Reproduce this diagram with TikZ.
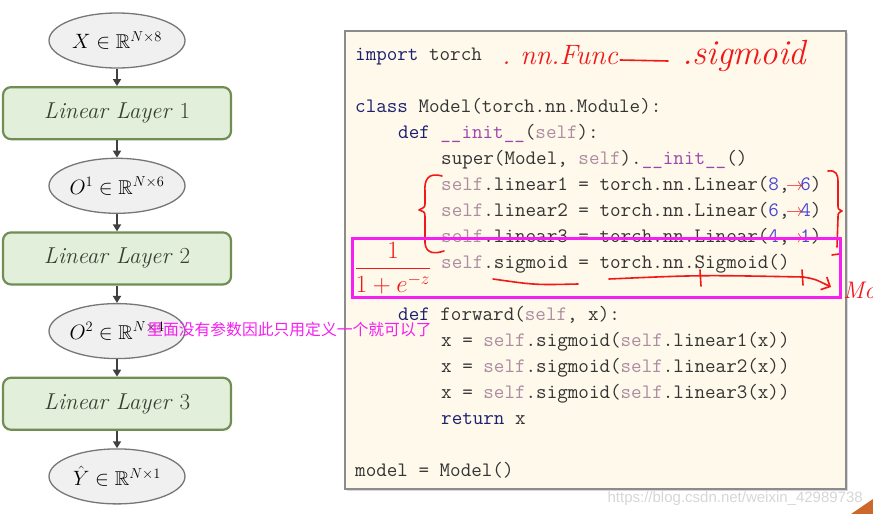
\documentclass[tikz,border=0pt]{standalone}
\usepackage{fontspec}
\usepackage{amsmath,amssymb,graphicx,xcolor}
\newfontfamily\cjk{Noto Sans CJK SC}
\newfontfamily\wmfont{Liberation Sans}
\definecolor{tensorfill}{RGB}{240,240,240}
\definecolor{tensorline}{RGB}{118,118,118}
\definecolor{layerfill}{RGB}{226,239,218}
\definecolor{layerline}{RGB}{112,142,84}
\definecolor{layertext}{RGB}{56,64,48}
\definecolor{flowgray}{RGB}{64,64,64}
\definecolor{paper}{RGB}{254,249,234}
\definecolor{paperline}{RGB}{140,140,140}
\definecolor{codetext}{RGB}{52,52,52}
\definecolor{kwblue}{RGB}{28,32,112}
\definecolor{selfgray}{RGB}{172,140,160}
\definecolor{dunder}{RGB}{160,70,170}
\definecolor{numblue}{RGB}{72,72,210}
\definecolor{inkred}{RGB}{240,24,24}
\definecolor{hlmagenta}{RGB}{246,30,240}
\definecolor{wmgray}{RGB}{214,214,214}
\definecolor{cornerorange}{RGB}{204,104,44}
\usetikzlibrary{arrows.meta,positioning,shapes.geometric,shadows}
\newcommand{\kwd}[1]{\textcolor{kwblue}{#1}}
\newcommand{\slf}{\textcolor{selfgray}{self}}
\newcommand{\dund}[1]{\textcolor{dunder}{\_\_#1\_\_}}
\newcommand{\cnum}[1]{\textcolor{numblue}{#1}}
\newcommand{\inkarrow}{\makebox[0.525em][c]{\textcolor{inkred}{\scalebox{0.85}{$\rightarrow$}}}}
\frenchspacing

\begin{document}
\begin{tikzpicture}[x=1pt, y=-1pt, node distance=17.4pt,
  tensor/.style={ellipse, draw=tensorline, fill=tensorfill, line width=1.3pt, inner sep=0pt,
    minimum width=136pt, minimum height=55pt, font=\fontsize{20}{24}\selectfont},
  layerbox/.style={rectangle, rounded corners=8pt, draw=layerline, fill=layerfill, line width=2.2pt,
    minimum width=228pt, minimum height=52pt, text=layertext, font=\fontsize{23}{26}\selectfont},
  flow/.style={-{Triangle[length=7pt,width=8pt]}, line width=2pt, draw=flowgray},
  codeline/.style={anchor=base west, inner sep=0pt, text=codetext, font=\ttfamily\fontsize{20.5}{24}\selectfont},
  ink/.style={draw=inkred, line width=1.6pt, line cap=round, line join=round},
  inktext/.style={text=inkred, inner sep=0pt}]
\useasboundingbox (0,0) rectangle (873,514);
% Network
\node[tensor] (xin) at (117,40.5) {$X \in \mathbb{R}^{N\times 8}$};
\node[layerbox, below=of xin] (lay1) {\textit{Linear Layer} 1};
\node[tensor, below=of lay1] (out1) {$O^1 \in \mathbb{R}^{N\times 6}$};
\node[layerbox, below=of out1] (lay2) {\textit{Linear Layer} 2};
\node[tensor, below=of lay2] (out2) {$O^2 \in \mathbb{R}^{N\times 4}$};
\node[layerbox, below=of out2] (lay3) {\textit{Linear Layer} 3};
\node[tensor, below=of lay3] (yhat) {$\hat{Y} \in \mathbb{R}^{N\times 1}$};
\draw[flow] (xin) -- (lay1);
\draw[flow] (lay1) -- (out1);
\draw[flow] (out1) -- (lay2);
\draw[flow] (lay2) -- (out2);
\draw[flow] (out2) -- (lay3);
\draw[flow] (lay3) -- (yhat);
% Code panel
\node[draw=paperline, fill=paper, line width=1.5pt, minimum width=501pt, minimum height=458pt,
  anchor=north west, drop shadow={shadow xshift=2pt, shadow yshift=-2pt, fill=gray!60}] (panel) at (344,30) {};
\node[codeline] (imp) at (355,60) {\kwd{import} torch};
\node[codeline] (cls) at (355,112) {\kwd{class} Model(torch.nn.Module):};
\node[codeline] (init) at (398,138) {\kwd{def} \dund{init}(\slf):};
\node[codeline] (sup) at (441,164) {super(Model, \slf).\dund{init}()};
\node[codeline] (lin1) at (441,190) {\slf.linear1 = torch.nn.Linear(\cnum{8},\inkarrow\cnum{6})};
\node[codeline] (lin2) at (441,216) {\slf.linear2 = torch.nn.Linear(\cnum{6},\inkarrow\cnum{4})};
\node[codeline] (lin3) at (441,242) {\slf.linear3 = torch.nn.Linear(\cnum{4},\inkarrow\cnum{1})};
\node[codeline] (sig) at (441,268) {\slf.sigmoid = torch.nn.Sigmoid()};
\node[codeline] (fwd) at (398,320) {\kwd{def} forward(\slf, x):};
\node[codeline] (fx1) at (441,346) {x = \slf.sigmoid(\slf.linear1(x))};
\node[codeline] (fx2) at (441,372) {x = \slf.sigmoid(\slf.linear2(x))};
\node[codeline] (fx3) at (441,398) {x = \slf.sigmoid(\slf.linear3(x))};
\node[codeline] (ret) at (441,424) {\kwd{return} x};
\node[codeline] (mdl) at (355,476) {model = Model()};
% Handwriting
\node[inktext, anchor=base west, font=\itshape\fontsize{28}{30}\selectfont] (inknn) at (502,64) {.\ nn.Func};
\coordinate (inkdash) at (668,61);
\draw[ink] ([xshift=2pt, yshift=4pt]inknn.base east) -- (inkdash);
\node[inktext, anchor=base west, font=\itshape\fontsize{35}{37}\selectfont] (inksig) at (682,64) {.sigmoid};
\draw[ink] (442,176) .. controls (428,172) and (424,180) .. (425,192) -- (425,203)
  .. controls (425,207) .. (419,210) .. controls (425,212) .. (425,218) -- (425,243)
  .. controls (426,254) and (435,254) .. (444,251);
\draw[ink] (828,171) .. controls (836,170) and (838,174) .. (838,182) -- (838,205)
  .. controls (838,209) .. (842,211) .. controls (838,213) .. (838,218) -- (837,247);
\draw[ink] (832,255) -- (839,254);
\node[inktext, font=\fontsize{24}{26}\selectfont] (inkfrac) at (393,268) {$\dfrac{1}{1+e^{-z}}$};
\draw[ink] (493,279) .. controls (535,285) .. (578,284);
\draw[ink] (609,279) .. controls (700,275) .. (803,277);
\draw[ink] (700,270) -- (701,286);
\draw[ink] (802,270) -- (803,285);
\draw[ink, -{Straight Barb[length=7pt,width=14pt]}] (803,277) .. controls (815,279) .. (831,287);
\node[inktext, anchor=base west, font=\itshape\fontsize{24}{26}\selectfont] (inkmo) at (843,298) {Mo};
% Highlight and note
\node[draw=hlmagenta, line width=3pt, minimum width=488pt, minimum height=59pt, anchor=north west] (hilite) at (351,237) {};
\node[anchor=west, inner sep=0pt, text=hlmagenta, font=\cjk\fontsize{15.8}{18}\selectfont] (note) at (147,329) {里面没有参数因此只用定义一个就可以了};
% Watermark
\node[anchor=base east, inner sep=0pt, text=wmgray, font=\wmfont\fontsize{15}{18}\selectfont] (wmark) at (863,502) {https://blog.csdn.net/weixin\_42989738};
\fill[cornerorange] (851,514) -- (873,499) -- (873,514) -- cycle;
\end{tikzpicture}
\end{document}
